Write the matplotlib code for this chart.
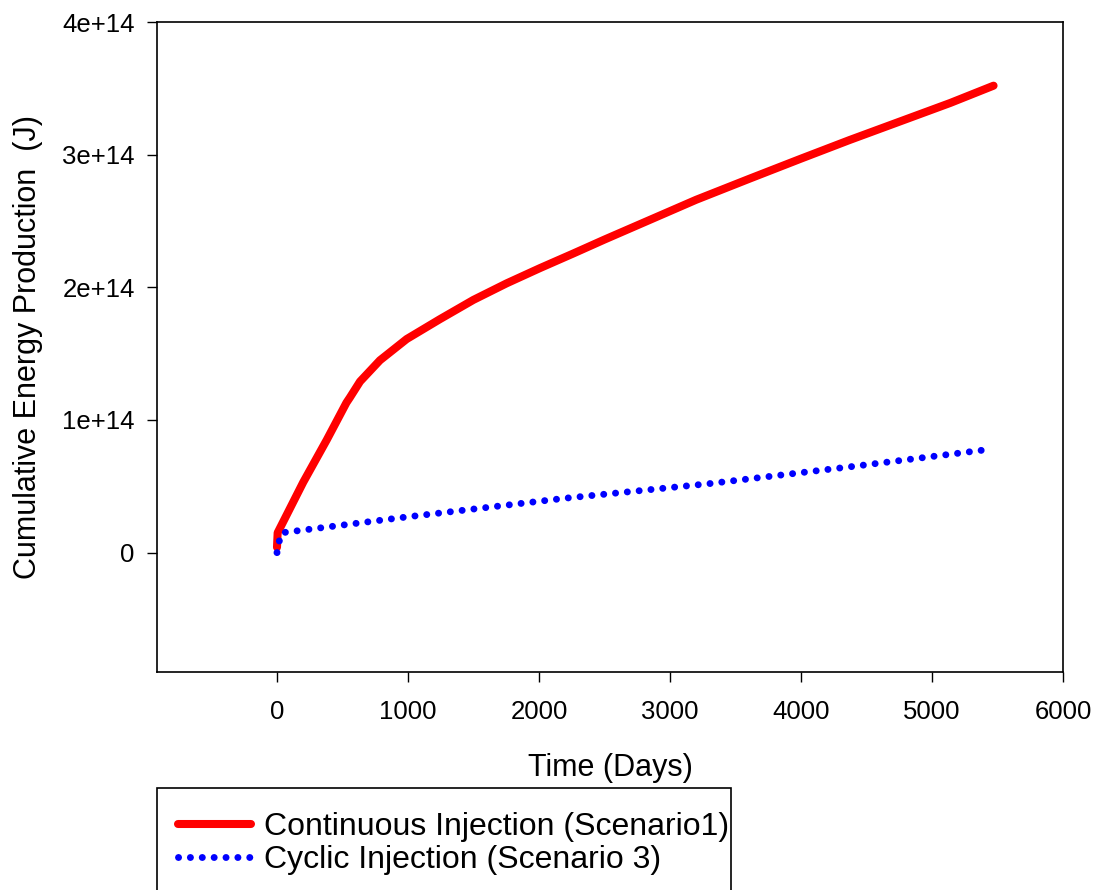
import matplotlib
matplotlib.use("Agg")
import matplotlib.pyplot as plt
from matplotlib.patches import Rectangle

plt.rcParams['font.family'] = ['Liberation Sans', 'DejaVu Sans']

# Data
days_continuous = [0, 5, 200, 380, 530, 557, 634, 786, 990, 1244, 1499, 1753, 2008, 2262,
                   2500, 2850, 3200, 3610, 4000, 4370, 4700, 5140, 5470]
energy_continuous = [0.04e14, 0.15e14, 0.53e14, 0.85e14, 1.13e14, 1.17e14, 1.29e14, 1.45e14, 1.61e14,
                     1.76e14, 1.905e14, 2.03e14, 2.145e14, 2.255e14, 2.36e14, 2.51e14, 2.66e14,
                     2.82e14, 2.97e14, 3.11e14, 3.23e14, 3.39e14, 3.52e14]

days_cyclic = [0, 15, 40, 1000, 2200, 3300, 4400, 5450]
energy_cyclic = [0.0, 0.08e14, 0.15e14, 0.27e14, 0.41e14, 0.52e14, 0.65e14, 0.78e14]

x_ticks = [0, 1000, 2000, 3000, 4000, 5000, 6000]
y_ticks = [0, 1e14, 2e14, 3e14, 4e14]
y_tick_labels = ['0', '1e+14', '2e+14', '3e+14', '4e+14']

W, H = 1096, 890
fig = plt.figure(figsize=(W / 100, H / 100), dpi=100)
ax = fig.add_axes([157 / W, 1 - 672 / H, (1063 - 157) / W, (672 - 22) / H])

l1, = ax.plot(days_continuous, energy_continuous, color='#ff0000', lw=5.8,
              solid_capstyle='round', solid_joinstyle='round',
              label='Continuous Injection (Scenario1)')
l2, = ax.plot(days_cyclic, energy_cyclic, color='#0000ff', lw=5.0,
              linestyle=(0, (0.01, 1.7)), dash_capstyle='round',
              label='Cyclic Injection (Scenario 3)')

ax.set_xlim(-916, 6000)
ax.set_ylim(-0.9e14, 4e14)
ax.set_xticks(x_ticks)
ax.set_xticklabels([str(t) for t in x_ticks])
ax.set_yticks(y_ticks)
ax.set_yticklabels(y_tick_labels)
ax.tick_params(direction='out', length=7, width=1.0, labelsize=18.5, colors='black')
ax.tick_params(axis='x', pad=13)
ax.tick_params(axis='y', pad=9)
for s in ax.spines.values():
    s.set_linewidth(1.2)

ax.set_xlabel('Time (Days)', fontsize=22, labelpad=21)
ax.set_ylabel('Cumulative Energy Production  (J)', fontsize=22, labelpad=14)

# Legend (box is cut off at the bottom of the figure)
leg = fig.legend(handles=[l1, l2], loc='upper left',
                 bbox_to_anchor=(178 / W, 1 - 812 / H), frameon=False,
                 fontsize=23, handlelength=2.3, handletextpad=0.4,
                 labelspacing=0.1, borderpad=0, borderaxespad=0)
rect = Rectangle((157 / W, 1 - 910 / H), (731 - 157) / W, (910 - 788) / H,
                 transform=fig.transFigure, fill=False, edgecolor='black', lw=1.2,
                 clip_on=False)
fig.add_artist(rect)

fig.savefig('out.png', dpi=100)
